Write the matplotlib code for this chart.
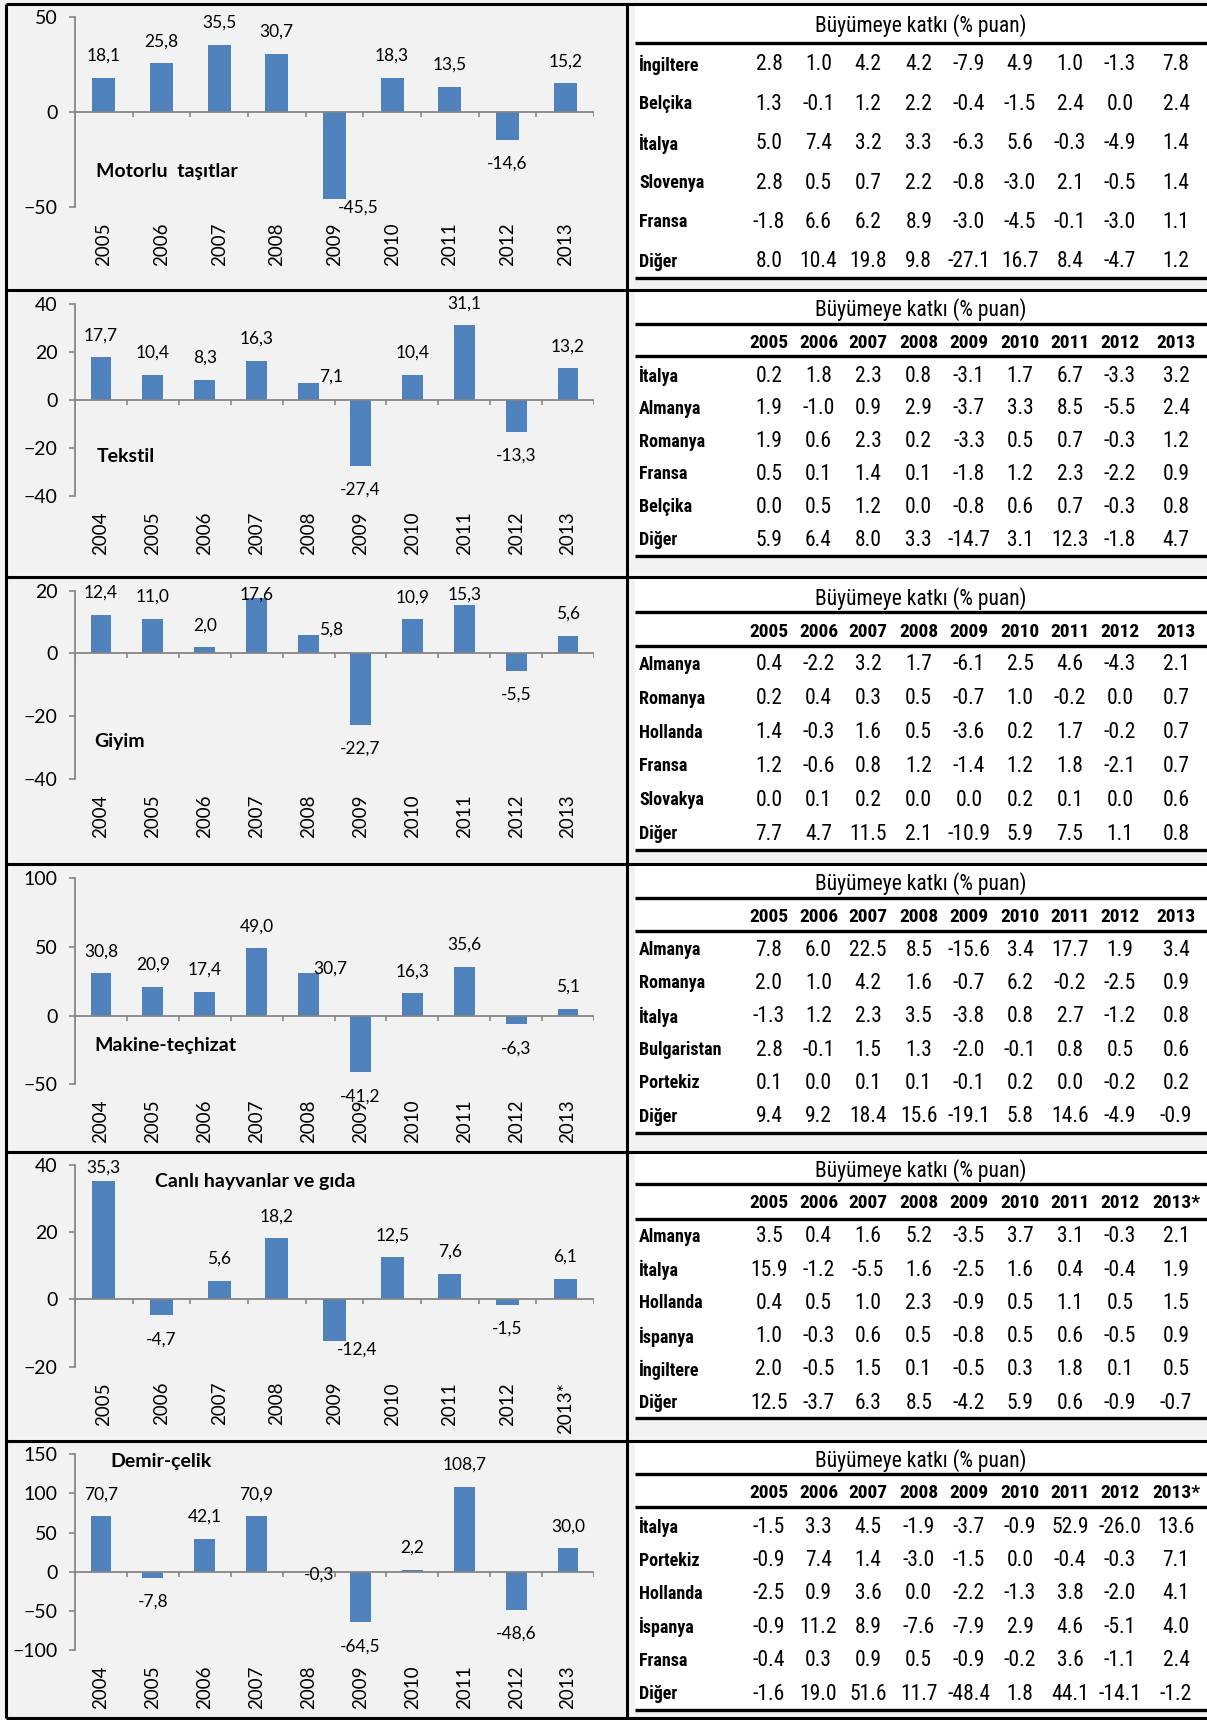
import numpy as np
import matplotlib
matplotlib.use("Agg")
import matplotlib.pyplot as plt
from matplotlib import font_manager
from matplotlib.patches import Rectangle

# fonts
avail = {f.name for f in font_manager.fontManager.ttflist}
chart_font = "Lato" if "Lato" in avail else "DejaVu Sans"
narrow = [f for f in ["Liberation Sans Narrow", "Roboto Condensed", "Open Sans Condensed"] if f in avail]
table_font = narrow[0] if narrow else chart_font
if narrow:
    ts = dict(title=15.5, head=14, label=13, num=15.5)
else:
    ts = dict(title=13, head=11, label=10.5, num=12.3)
plt.rcParams["font.family"] = chart_font

# ---- data: bar charts ----
years_04 = ["2004", "2005", "2006", "2007", "2008", "2009", "2010", "2011", "2012", "2013"]
years_05 = ["2005", "2006", "2007", "2008", "2009", "2010", "2011", "2012", "2013"]
years_05s = ["2005", "2006", "2007", "2008", "2009", "2010", "2011", "2012", "2013*"]

motorlu = [18.1, 25.8, 35.5, 30.7, -45.5, 18.3, 13.5, -14.6, 15.2]
tekstil = [17.7, 10.4, 8.3, 16.3, 7.1, -27.4, 10.4, 31.1, -13.3, 13.2]
giyim = [12.4, 11.0, 2.0, 17.6, 5.8, -22.7, 10.9, 15.3, -5.5, 5.6]
makine = [30.8, 20.9, 17.4, 49.0, 30.7, -41.2, 16.3, 35.6, -6.3, 5.1]
canli = [35.3, -4.7, 5.6, 18.2, -12.4, 12.5, 7.6, -1.5, 6.1]
demir = [70.7, -7.8, 42.1, 70.9, -0.3, -64.5, 2.2, 108.7, -48.6, 30.0]

chart_titles = ["Motorlu  taşıtlar", "Tekstil", "Giyim", "Makine-teçhizat",
                "Canlı hayvanlar ve gıda", "Demir-çelik"]

# ---- data: tables ----
tab_title = "Büyümeye katkı (% puan)"
tab_years = ["2005", "2006", "2007", "2008", "2009", "2010", "2011", "2012", "2013"]
tab_years_s = ["2005", "2006", "2007", "2008", "2009", "2010", "2011", "2012", "2013*"]

t1_rows = ["İngiltere", "Belçika", "İtalya", "Slovenya", "Fransa", "Diğer"]
t1_vals = [[2.8, 1.0, 4.2, 4.2, -7.9, 4.9, 1.0, -1.3, 7.8],
           [1.3, -0.1, 1.2, 2.2, -0.4, -1.5, 2.4, 0.0, 2.4],
           [5.0, 7.4, 3.2, 3.3, -6.3, 5.6, -0.3, -4.9, 1.4],
           [2.8, 0.5, 0.7, 2.2, -0.8, -3.0, 2.1, -0.5, 1.4],
           [-1.8, 6.6, 6.2, 8.9, -3.0, -4.5, -0.1, -3.0, 1.1],
           [8.0, 10.4, 19.8, 9.8, -27.1, 16.7, 8.4, -4.7, 1.2]]

t2_rows = ["İtalya", "Almanya", "Romanya", "Fransa", "Belçika", "Diğer"]
t2_vals = [[0.2, 1.8, 2.3, 0.8, -3.1, 1.7, 6.7, -3.3, 3.2],
           [1.9, -1.0, 0.9, 2.9, -3.7, 3.3, 8.5, -5.5, 2.4],
           [1.9, 0.6, 2.3, 0.2, -3.3, 0.5, 0.7, -0.3, 1.2],
           [0.5, 0.1, 1.4, 0.1, -1.8, 1.2, 2.3, -2.2, 0.9],
           [0.0, 0.5, 1.2, 0.0, -0.8, 0.6, 0.7, -0.3, 0.8],
           [5.9, 6.4, 8.0, 3.3, -14.7, 3.1, 12.3, -1.8, 4.7]]

t3_rows = ["Almanya", "Romanya", "Hollanda", "Fransa", "Slovakya", "Diğer"]
t3_vals = [[0.4, -2.2, 3.2, 1.7, -6.1, 2.5, 4.6, -4.3, 2.1],
           [0.2, 0.4, 0.3, 0.5, -0.7, 1.0, -0.2, 0.0, 0.7],
           [1.4, -0.3, 1.6, 0.5, -3.6, 0.2, 1.7, -0.2, 0.7],
           [1.2, -0.6, 0.8, 1.2, -1.4, 1.2, 1.8, -2.1, 0.7],
           [0.0, 0.1, 0.2, 0.0, 0.0, 0.2, 0.1, 0.0, 0.6],
           [7.7, 4.7, 11.5, 2.1, -10.9, 5.9, 7.5, 1.1, 0.8]]

t4_rows = ["Almanya", "Romanya", "İtalya", "Bulgaristan", "Portekiz", "Diğer"]
t4_vals = [[7.8, 6.0, 22.5, 8.5, -15.6, 3.4, 17.7, 1.9, 3.4],
           [2.0, 1.0, 4.2, 1.6, -0.7, 6.2, -0.2, -2.5, 0.9],
           [-1.3, 1.2, 2.3, 3.5, -3.8, 0.8, 2.7, -1.2, 0.8],
           [2.8, -0.1, 1.5, 1.3, -2.0, -0.1, 0.8, 0.5, 0.6],
           [0.1, 0.0, 0.1, 0.1, -0.1, 0.2, 0.0, -0.2, 0.2],
           [9.4, 9.2, 18.4, 15.6, -19.1, 5.8, 14.6, -4.9, -0.9]]

t5_rows = ["Almanya", "İtalya", "Hollanda", "İspanya", "İngiltere", "Diğer"]
t5_vals = [[3.5, 0.4, 1.6, 5.2, -3.5, 3.7, 3.1, -0.3, 2.1],
           [15.9, -1.2, -5.5, 1.6, -2.5, 1.6, 0.4, -0.4, 1.9],
           [0.4, 0.5, 1.0, 2.3, -0.9, 0.5, 1.1, 0.5, 1.5],
           [1.0, -0.3, 0.6, 0.5, -0.8, 0.5, 0.6, -0.5, 0.9],
           [2.0, -0.5, 1.5, 0.1, -0.5, 0.3, 1.8, 0.1, 0.5],
           [12.5, -3.7, 6.3, 8.5, -4.2, 5.9, 0.6, -0.9, -0.7]]

t6_rows = ["İtalya", "Portekiz", "Hollanda", "İspanya", "Fransa", "Diğer"]
t6_vals = [[-1.5, 3.3, 4.5, -1.9, -3.7, -0.9, 52.9, -26.0, 13.6],
           [-0.9, 7.4, 1.4, -3.0, -1.5, 0.0, -0.4, -0.3, 7.1],
           [-2.5, 0.9, 3.6, 0.0, -2.2, -1.3, 3.8, -2.0, 4.1],
           [-0.9, 11.2, 8.9, -7.6, -7.9, 2.9, 4.6, -5.1, 4.0],
           [-0.4, 0.3, 0.9, 0.5, -0.9, -0.2, 3.6, -1.1, 2.4],
           [-1.6, 19.0, 51.6, 11.7, -48.4, 1.8, 44.1, -14.1, -1.2]]

# ---- layout (pixels) ----
W, H = 1207, 1720
BG = "#f2f2f2"
BAR = "#4f81bd"
AX = "#868686"

charts = [
    dict(vals=motorlu, cats=years_05, top=17.3, bot=207.3, ylim=(-50, 50), step=50, title=(96.5, 171.5)),
    dict(vals=tekstil, cats=years_04, top=303.7, bot=496.3, ylim=(-40, 40), step=20, title=(96.5, 456.3)),
    dict(vals=giyim, cats=years_04, top=590.7, bot=779, ylim=(-40, 20), step=20, title=(94.5, 741.7)),
    dict(vals=makine, cats=years_04, top=878.3, bot=1084.3, ylim=(-50, 100), step=50, title=(94.5, 1045)),
    dict(vals=canli, cats=years_05s, top=1165, bot=1366.7, ylim=(-20, 40), step=20, title=(154.7, 1181.7)),
    dict(vals=demir, cats=years_04, top=1454.3, bot=1650, ylim=(-100, 150), step=50, title=(110, 1461.7)),
]
# manual label nudges (px, +y = down), as placed in the original workbook
nudges = {(0, 4): (24, -15), (1, 4): (23, 16), (2, 3): (0, 18), (2, 4): (23, 16),
          (2, 7): (0, 11), (3, 4): (22, 17), (4, 0): (0, 9), (4, 4): (23, -16),
          (5, 4): (11, -21)}

tables = [
    dict(rows=t1_rows, vals=t1_vals, head=None, top=4, title=26, line1=43.3, hdr=None, line2=None, r0=65, r1=261.7, bot=278.3),
    dict(rows=t2_rows, vals=t2_vals, head=tab_years, top=290, title=310, line1=324, hdr=342.7, line2=355.7, r0=376, r1=540, bot=556),
    dict(rows=t3_rows, vals=t3_vals, head=tab_years, top=577, title=598.3, line1=612.3, hdr=631.7, line2=646, r0=665, r1=834, bot=850),
    dict(rows=t4_rows, vals=t4_vals, head=tab_years, top=864, title=884, line1=897.7, hdr=916.7, line2=930.7, r0=950, r1=1116.7, bot=1133.3),
    dict(rows=t5_rows, vals=t5_vals, head=tab_years_s, top=1152, title=1170.7, line1=1184.3, hdr=1203.3, line2=1219.3, r0=1236.7, r1=1403.3, bot=1418.3),
    dict(rows=t6_rows, vals=t6_vals, head=tab_years_s, top=1441, title=1460.7, line1=1474.3, hdr=1492.7, line2=1507.3, r0=1527.3, r1=1694, bot=1710),
]
col_x = [769, 818.5, 868, 918.7, 969, 1020, 1070, 1120, 1176]
tab_left, tab_right = 635, W
borders = [4, 290, 577, 864, 1152, 1441, 1718]

fig = plt.figure(figsize=(W / 100, H / 100), dpi=100, facecolor=BG)

# overlay in pixel coordinates for frames and tables
ov = fig.add_axes([0, 0, 1, 1], zorder=0)
ov.set_xlim(0, W)
ov.set_ylim(H, 0)
ov.axis("off")

for t in tables:
    ov.add_patch(Rectangle((tab_left, t["top"]), tab_right - tab_left, t["bot"] - t["top"],
                           facecolor="white", edgecolor="none"))
    ov.hlines([t["line1"], t["bot"]], tab_left, tab_right, color="black", lw=2.4)
    if t["line2"] is not None:
        ov.hlines(t["line2"], tab_left, tab_right, color="black", lw=2.4)
    ov.text((tab_left + tab_right) / 2, t["title"], tab_title, ha="center", va="center",
            fontsize=ts["title"], family=table_font)
    if t["head"] is not None:
        for x, yr in zip(col_x, t["head"]):
            ov.text(x, t["hdr"], yr, ha="center", va="center", fontsize=ts["head"],
                    family=table_font, weight="bold")
    ys = np.linspace(t["r0"], t["r1"], len(t["rows"]))
    for y, name, row in zip(ys, t["rows"], t["vals"]):
        ov.text(639, y, name, ha="left", va="center", fontsize=ts["label"],
                family=table_font, weight="bold")
        for x, v in zip(col_x, row):
            ov.text(x, y, f"{v:.1f}", ha="center", va="center", fontsize=ts["num"],
                    family=table_font)

ov.hlines(borders, 6, W, color="black", lw=2.2)
ov.vlines([6, 627], borders[0], borders[-1], color="black", lw=2.2)

# bar charts
L, R = 75, 594
for k, c in enumerate(charts):
    vals = c["vals"]
    n = len(vals)
    ax = fig.add_axes([L / W, 1 - c["bot"] / H, (R - L) / W, (c["bot"] - c["top"]) / H], zorder=2)
    ax.set_facecolor("none")
    x = np.arange(n)
    ax.bar(x, vals, width=0.4, color=BAR, zorder=2)
    ymin, ymax = c["ylim"]
    ax.set_xlim(-0.5, n - 0.5)
    ax.set_ylim(ymin, ymax)
    ax.axhline(0, color=AX, lw=1.3, zorder=3)
    tl = 5 / (c["bot"] - c["top"]) * (ymax - ymin)
    ax.vlines(np.arange(n + 1) - 0.5, -tl, 0, color=AX, lw=1.2, zorder=3)
    for s in ["top", "right", "bottom"]:
        ax.spines[s].set_visible(False)
    ax.spines["left"].set_color(AX)
    ax.spines["left"].set_linewidth(1.3)
    ax.set_yticks(np.arange(ymin, ymax + 1, c["step"]))
    ax.tick_params(axis="y", direction="out", length=4, width=1.2, color=AX,
                   labelsize=14, pad=8.5)
    ax.set_xticks(x)
    ax.set_xticklabels(c["cats"], rotation=90, fontsize=13.5)
    ax.tick_params(axis="x", length=0, pad=11)
    for i, v in enumerate(vals):
        dy = 15.8 if v >= 0 else -17.3
        dx = 0
        if (k, i) in nudges:
            nx, ny = nudges[(k, i)]
            dx += nx * 0.72
            dy -= ny * 0.72
        ax.annotate(f"{v:.1f}".replace(".", ","), (i, v), xytext=(dx, dy),
                    textcoords="offset points", ha="center", va="center",
                    fontsize=12.5, annotation_clip=False, zorder=4)
    ov.text(c["title"][0], c["title"][1], chart_titles[k], ha="left", va="center",
            fontsize=14, weight="bold")

fig.savefig("out.png", dpi=100, facecolor=BG)
